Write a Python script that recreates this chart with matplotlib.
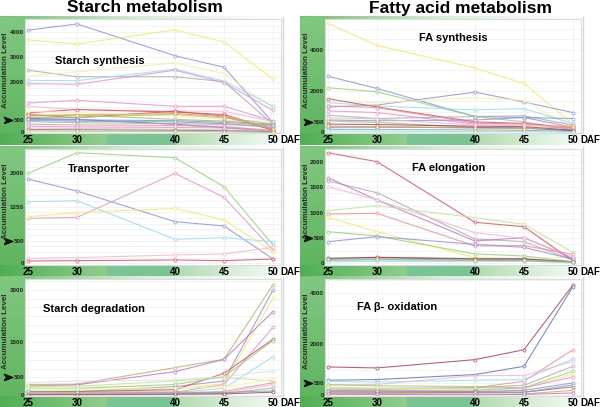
import matplotlib
matplotlib.use("Agg")
import matplotlib.pyplot as plt
import numpy as np
from matplotlib.colors import LinearSegmentedColormap
from matplotlib.ticker import MultipleLocator

plt.rcParams['font.family'] = ['Liberation Sans', 'DejaVu Sans']

days = [25, 30, 40, 45, 50]
day_labels = ['25', '30', '40', '45', '50']

# colours used by the lines
PURPLE, YELLOW, GRAY, LYELLOW = '#8c8ce0', '#f0ea60', '#a8a8a8', '#f4efa0'
CYAN, PINK, LPINK, RED = '#8fdcef', '#e38fcb', '#f3b3cf', '#e0485a'
SALMON, GREEN, LGREEN, OLIVE = '#f08a8a', '#8fd06f', '#b9e39b', '#b5b060'
BLUE, TEAL, ORANGE, DRED = '#5b6fc0', '#5fb0b0', '#f0a050', '#b03a48'
MAGENTA = '#c470c8'

# Starch synthesis
synth_vals = [
    [4065, 4313, 3049, 2593, 391],
    [3674, 3518, 4078, 3596, 2124],
    [2475, 2215, 2215, 2020, 330],
    [2241, 2410, 2762, 2345, 977],
    [2072, 2059, 2515, 2046, 1042],
    [1941, 1915, 2476, 1980, 880],
    [1173, 1277, 1042, 1042, 456],
    [1042, 912, 847, 847, 430],
    [782, 912, 808, 717, 130],
    [717, 586, 847, 651, 90],
    [850, 780, 650, 520, 260],
    [651, 690, 521, 450, 330],
    [590, 610, 720, 580, 350],
    [560, 521, 326, 195, 60],
    [480, 450, 420, 350, 200],
    [430, 390, 350, 320, 260],
    [520, 500, 470, 400, 300],
    [330, 300, 280, 240, 80],
    [250, 220, 200, 180, 60],
    [180, 160, 130, 110, 40],
    [120, 110, 90, 70, 30],
    [60, 50, 40, 30, 10],
    [680, 700, 760, 620, 150],
]
synth_colors = [PURPLE, YELLOW, GRAY, LYELLOW, CYAN, PINK, PINK, LPINK, RED, RED,
                LYELLOW, OLIVE, GREEN, BLUE, TEAL, GRAY, PURPLE, SALMON, PINK,
                CYAN, RED, GREEN, ORANGE]

# Transporter
trans_vals = [
    [1985, 2441, 2331, 1691, 404],
    [1860, 1596, 919, 824, 96],
    [993, 1015, 1985, 1456, 294],
    [1360, 1382, 529, 566, 478],
    [1029, 1118, 1213, 956, 257],
    [110, 125, 184, 206, 353],
    [51, 59, 74, 59, 96],
]
trans_colors = [GREEN, PURPLE, PINK, CYAN, YELLOW, LPINK, RED]

# Starch degradation
degr_vals = [
    [300, 310, 781, 1019, 3143],
    [80, 90, 238, 400, 3000],
    [150, 140, 160, 330, 2762],
    [257, 290, 667, 1019, 2381],
    [60, 60, 80, 300, 1933],
    [100, 100, 150, 619, 1590],
    [200, 190, 300, 524, 1552],
    [50, 50, 70, 190, 1095],
    [352, 400, 430, 524, 686],
    [250, 250, 400, 495, 400],
    [180, 170, 200, 230, 448],
    [40, 40, 50, 100, 350],
    [30, 30, 40, 60, 300],
    [20, 20, 30, 40, 200],
    [100, 90, 80, 70, 120],
    [10, 10, 20, 30, 80],
]
degr_colors = [OLIVE, PURPLE, YELLOW, MAGENTA, PINK, RED, GREEN, CYAN, '#dddddd',
               LGREEN, LYELLOW, SALMON, LPINK, GRAY, TEAL, DRED]

# FA synthesis
fasyn_vals = [
    [5280, 4208, 3120, 2368, 400],
    [2717, 2126, 768, 720, 250],
    [2160, 1968, 768, 509, 125],
    [1229, 1325, 1949, 1469, 960],
    [1520, 1440, 1680, 1550, 240],
    [1440, 1280, 1085, 1152, 432],
    [1632, 1229, 509, 432, 240],
    [1280, 1200, 448, 400, 200],
    [1040, 960, 400, 420, 150],
    [832, 672, 768, 800, 350],
    [600, 560, 600, 720, 672],
    [560, 480, 240, 240, 100],
    [256, 256, 240, 200, 80],
    [400, 380, 300, 280, 100],
    [150, 140, 120, 100, 40],
    [700, 650, 350, 330, 300],
    [300, 280, 200, 180, 260],
    [60, 50, 40, 40, 20],
]
fasyn_colors = [YELLOW, PURPLE, GREEN, PURPLE, LYELLOW, CYAN, RED, SALMON, PINK,
                GRAY, PURPLE, GREEN, BLUE, DRED, TEAL, LPINK, ORANGE, CYAN]

# FA elongation
elong_vals = [
    [2177, 2000, 807, 721, 46],
    [1620, 1390, 479, 426, 66],
    [1685, 1246, 439, 505, 98],
    [1508, 1250, 603, 492, 131],
    [1036, 1134, 898, 767, 216],
    [970, 984, 341, 348, 177],
    [905, 623, 111, 85, 30],
    [623, 538, 184, 144, 30],
    [426, 525, 374, 315, 80],
    [100, 110, 80, 80, 20],
    [90, 120, 90, 90, 30],
    [60, 70, 60, 50, 20],
    [30, 40, 30, 40, 10],
    [80, 90, 60, 60, 30],
]
elong_colors = [RED, GRAY, MAGENTA, LPINK, LGREEN, SALMON, YELLOW, GREEN, PURPLE,
                BLUE, DRED, TEAL, CYAN, OLIVE]

# FA beta-oxidation
boxid_vals = [
    [1117, 1078, 1403, 1792, 4325],
    [597, 623, 818, 1143, 4260],
    [300, 280, 300, 558, 1792],
    [560, 520, 600, 620, 1428],
    [420, 430, 779, 779, 1338],
    [250, 240, 300, 400, 1143],
    [420, 380, 350, 300, 948],
    [300, 280, 260, 250, 850],
    [200, 190, 210, 300, 727],
    [150, 140, 160, 200, 494],
    [100, 100, 120, 130, 338],
    [180, 170, 150, 120, 420],
    [80, 70, 60, 60, 200],
    [40, 40, 30, 40, 100],
]
boxid_colors = [DRED, BLUE, SALMON, CYAN, LPINK, GRAY, GREEN, YELLOW, PINK,
                PURPLE, RED, TEAL, OLIVE, MAGENTA]

W, H = 600, 407
fig = plt.figure(figsize=(6, 4.07), dpi=100)

bg = fig.add_axes([0, 0, 1, 1], zorder=0)
bg.axis('off')

strip_cmap = LinearSegmentedColormap.from_list('strip', [
    (0.0, '#4fae52'), (0.36, '#8fcd8b'), (0.37, '#7ac493'), (0.6, '#7ac493'),
    (0.61, '#b2dcb2'), (1.0, '#ffffff')])
top_cmap = LinearSegmentedColormap.from_list('top', ['#6fbf6f', '#d8eed8', '#ffffff'])
side_cmap = LinearSegmentedColormap.from_list('side', ['#80c880', '#5db35d'])
hgrad = np.linspace(0, 1, 256).reshape(1, -1)
vgrad = np.linspace(0, 1, 64).reshape(-1, 1)


def frame(cx, top, bottom):
    bg.imshow(hgrad, cmap=top_cmap, extent=(cx, cx + 284, top + 2.5, top), aspect='auto')
    bg.imshow(vgrad, cmap=side_cmap, extent=(cx, cx + 25, bottom + 12, top), aspect='auto')
    bg.imshow(hgrad, cmap=strip_cmap, extent=(cx, cx + 292, bottom + 12, bottom), aspect='auto')
    bg.plot([cx + 283, cx + 283], [top, bottom], color='#d6d6d6', lw=1)


arrow = [(-1, -0.75), (1, 0), (-1, 0.75), (-0.45, 0), (-1, -0.75)]


def panel(cx, top, bottom, vals, colors, ylim, yticks, grid_step, title, tx, ty):
    frame(cx, top - 2, bottom)
    ax = fig.add_axes([(cx + 25) / W, 1 - bottom / H, 256 / W, (bottom - top) / H], zorder=1)
    ax.set_facecolor('white')
    for v, c in zip(vals, colors):
        ax.plot(days, v, color=c, lw=0.8, alpha=0.8, marker='o', ms=2.2,
                mfc='white', mec=c, mew=0.6, clip_on=False)
    ax.set_xlim(24.69, 50.82)
    ax.set_ylim(*ylim)
    ax.set_xticks(days, day_labels)
    ax.set_yticks(yticks, [str(t) for t in yticks])
    ax.yaxis.set_minor_locator(MultipleLocator(grid_step))
    ax.grid(True, which='both', color='#eeeeee', lw=0.5)
    ax.set_axisbelow(True)
    ax.tick_params(axis='x', length=0, pad=1.5, labelsize=7)
    ax.tick_params(axis='y', which='both', length=0, pad=0.8, labelsize=4.5,
                   labelcolor='#222222')
    for lab in ax.get_xticklabels():
        lab.set_fontweight('bold')
    for lab in ax.get_yticklabels():
        lab.set_fontweight('bold')
    for s in ax.spines.values():
        s.set_color('#dcdcdc')
        s.set_linewidth(0.8)
    ax.annotate('DAF', xy=(50, 0), xycoords=('data', 'axes fraction'),
                xytext=(5.2, -1.5), textcoords='offset points', ha='left', va='top',
                fontsize=7, fontweight='bold', annotation_clip=False)
    ax.plot([-0.066], [500], transform=ax.get_yaxis_transform(), marker=arrow,
            ms=6, color='#111111', clip_on=False, ls='none')
    fig.text((cx + 6) / W, 1 - (top + 0.45 * (bottom - top)) / H, 'Accumulation Level',
             rotation=90, ha='center', va='center', fontsize=5.8, fontweight='bold',
             color='#2b2b2b')
    fig.text(tx / W, 1 - ty / H, title, ha='left', va='center', fontsize=8,
             fontweight='bold', zorder=5)
    return ax


rows = [(19, 133), (149, 265), (279, 396)]

panel(0, *rows[0], synth_vals, synth_colors, (-20, 4510), [0, 500, 2000, 3000, 4000],
      250, 'Starch synthesis', 55, 61)
panel(0, *rows[1], trans_vals, trans_colors, (-37, 2523), [0, 500, 1250, 2000],
      125, 'Transporter', 68, 169)
panel(0, *rows[2], degr_vals, degr_colors, (-29, 3314), [0, 500, 1500, 3000],
      250, 'Starch degradation', 43, 309)
panel(300, *rows[0], fasyn_vals, fasyn_colors, (-30, 5490), [0, 500, 2000, 4000],
      500, 'FA synthesis', 419, 38)
panel(300, *rows[1], elong_vals, elong_colors, (-33, 2250), [0, 500, 1000, 1500, 2000],
      125, 'FA elongation', 412, 168)
panel(300, *rows[2], boxid_vals, boxid_colors, (-20, 4558), [0, 500, 2000, 4000],
      500, 'FA β- oxidation', 357, 307)

bg.set_xlim(0, W)
bg.set_ylim(H, 0)

fig.text(145 / W, 1 - 8 / H, 'Starch metabolism', ha='center', va='center',
         fontsize=12.5, fontweight='bold')
fig.text(460 / W, 1 - 8 / H, 'Fatty acid metabolism', ha='center', va='center',
         fontsize=12.5, fontweight='bold')

fig.savefig('out.png', dpi=100)
